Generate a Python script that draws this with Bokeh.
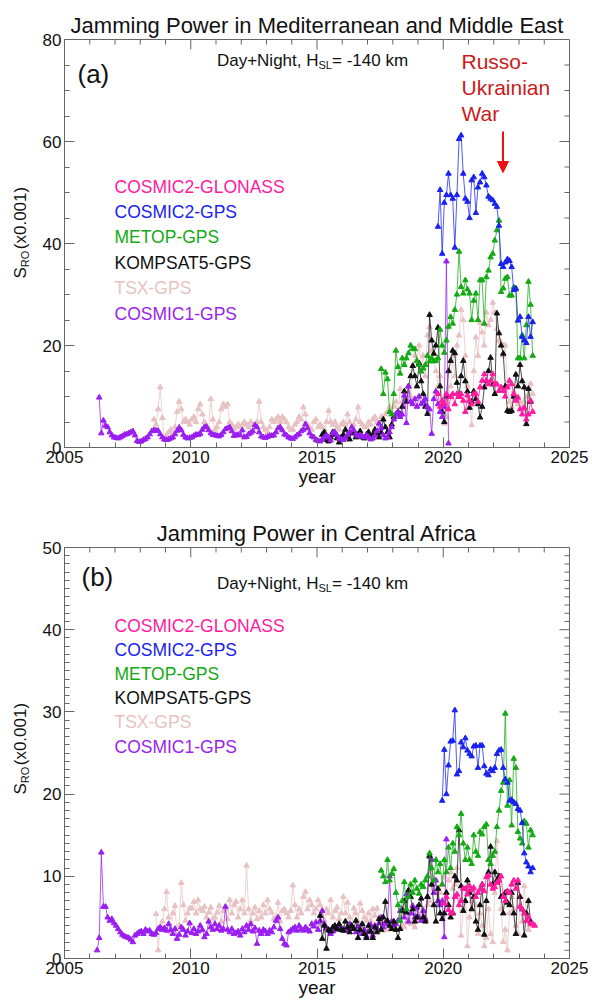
import numpy as np
from bokeh.plotting import figure
from bokeh.models import Label, Arrow, NormalHead, Range1d, FixedTicker
from bokeh.layouts import column, row
from bokeh.embed import file_html
from bokeh.resources import INLINE

FONT = "Liberation Sans"

SERIES_NAMES = ["COSMIC2-GLONASS", "COSMIC2-GPS", "METOP-GPS", "KOMPSAT5-GPS", "TSX-GPS", "COSMIC1-GPS"]
SERIES_COLORS = ["#ff1aa0", "#1a22f0", "#14aa14", "#111111", "#e8c2c2", "#9a1ef0"]

X_TICKS = [2005, 2010, 2015, 2020, 2025]
X_MINOR = list(range(2005, 2026))

# ---------------- Panel (a): Mediterranean and Middle East (monthly values) ----------------
MED_C1_START = (2006, 5)
MED_C1 = [9.8, 2.8, 5.3, 4.3, 4.0, 3.0, 2.4, 2.0,
          1.9, 1.8, 2.0, 2.2, 2.5, 2.6, 2.8, 3.0, 3.2, 2.4, 1.3, 1.1,
          1.2, 1.5, 1.7, 2.0, 2.6, 3.2, 3.4, 3.3, 3.3, 2.6, 2.0, 1.6,
          1.5, 1.6, 1.8, 2.0, 2.6, 3.3, 3.9, 3.4, 2.5, 2.0, 1.8, 1.9,
          2.0, 2.3, 2.5, 2.5, 2.7, 3.5, 4.0, 4.1, 3.4, 2.8, 2.5, 2.4,
          2.3, 2.2, 2.5, 3.0, 3.6, 3.8, 4.0, 3.2, 2.3, 2.4, 2.5, 2.4,
          3.4, 2.0, 2.1, 2.6, 2.9, 3.2, 4.4, 4.0, 3.0, 2.2, 2.0, 1.9,
          2.1, 2.3, 2.3, 2.4, 3.0, 3.8, 4.0, 3.4, 2.6, 2.4, 2.0, 1.8,
          1.7, 2.0, 2.4, 2.6, 3.2, 3.5, 4.6, 3.8, 2.8, 2.2, 2.0, 1.5,
          1.3, 1.2, 1.6, 2.0, 2.4, 2.0, 1.4, 2.8, 3.0, 2.4, 1.8, 1.6,
          1.5, 1.9, 2.5, 3.0, 4.0, 3.4, 2.6, 2.2, 2.4, 2.2, 2.0, 2.4,
          2.0, 1.6, 1.8, 2.2, 3.2, 4.7, 3.8, 2.4, 1.8, 2.0, 3.0, 4.0,
          5.5, 6.5, 7.0, 6.0, 6.5, 10.2, 4.8, 12.0, 9.0, 8.5, 9.5, 8.0,
          10.0, 8.5, 9.0, 9.5, 8.0, 7.5, 2.7, 9.5, 11.0, 8.5, 7.0, 6.0,
          8.0, 36.5, 0.8]

MED_TSX_START = (2008, 7)
MED_TSX = [5.5, 4.5, 7.5, 11.8, 5.8, 1.5,
           2.5, 3.0, 3.5, 2.8, 4.0, 7.0, 9.0, 7.5, 5.0, 5.5, 5.0, 4.5,
           5.5, 6.0, 5.0, 7.5, 8.5, 6.5, 5.0, 4.0, 3.5, 9.5, 5.5, 3.5,
           4.0, 5.0, 7.5, 8.5, 8.0, 8.5, 5.0, 4.5, 3.5, 4.0, 4.5, 4.0,
           4.5, 5.0, 4.5, 4.0, 5.0, 4.5, 4.0, 5.0, 9.0, 5.0, 4.0, 3.5,
           3.0, 4.0, 5.5, 5.0, 5.5, 6.0, 5.0, 6.0, 5.5, 5.0, 4.0, 3.5,
           3.5, 4.5, 5.0, 6.0, 5.5, 7.9, 6.5, 4.5, 4.0, 3.5, 5.0, 5.5,
           4.0, 4.5, 4.0, 3.5, 5.0, 7.2, 5.0, 4.5, 5.0, 4.0, 3.5, 4.5,
           5.0, 4.5, 6.5, 5.0, 4.0, 4.5, 5.5, 7.9, 5.0, 4.5, 4.0, 4.0,
           5.0, 4.5, 5.5, 6.0, 5.0, 4.5, 6.0, 5.5, 6.5, 7.0, 8.0, 7.0,
           8.0, 9.0, 7.0, 11.5, 9.0, 8.0, 9.5, 11.0, 10.0, 16.0, 18.0, 17.0,
           20.0, 16.0, 18.0, 14.0, 22.0, 23.6, 19.0, 17.0, 15.0, 12.0, 14.0, 9.0,
           4.7, 6.0, 10.0, 12.0, 18.0, 14.0, 20.0, 22.0, 27.0, 25.0, 18.0, 12.0,
           9.0, 4.4, 15.0, 21.6, 18.0, 24.5, 22.6, 20.0, 26.5, 24.0, 25.0, 28.4,
           26.5, 23.3, 21.0, 20.6, 18.0, 20.0, 12.0, 9.0, 8.0, 11.0, 10.0, 8.5,
           9.0, 8.0, 9.0, 10.0, 11.5, 12.5, 10.5]

MED_K5_START = (2015, 3)
MED_K5 = [2.5, 3.0, 1.5, 1.2, 2.0, 3.0, 2.5, 1.8, 1.0, 2.0,
          2.5, 3.5, 2.0, 1.6, 2.8, 3.0, 2.0, 2.5, 3.2, 2.0, 1.8, 2.5,
          3.0, 2.0, 2.5, 3.5, 2.8, 2.0, 3.0, 5.5, 4.0, 3.0, 2.0, 4.5,
          6.0, 6.5, 7.0, 6.5, 8.0, 11.0, 9.0, 12.0, 14.0, 16.0, 14.0, 12.0,
          16.5, 13.0, 10.5, 8.0, 6.6, 26.0, 21.0, 18.4, 20.0, 23.5, 12.0, 7.0,
          5.0, 10.0, 15.0, 17.0, 19.0, 18.5, 12.7, 10.0, 14.0, 17.0, 13.0, 11.0,
          7.8, 9.0, 11.0, 9.5, 8.5, 5.9, 8.0, 11.8, 13.0, 15.0, 17.6, 12.4,
          10.5, 26.3, 22.4, 20.0, 18.4, 12.0, 7.2, 7.0, 7.2, 10.0, 14.3, 12.0,
          16.2, 13.0, 11.8, 4.6, 11.5, 9.0]

MED_METOP_START = (2017, 7)
MED_METOP = [15.4, 10.5, 14.7, 13.4, 7.0, 6.5,
             10.5, 19.0, 15.8, 14.5, 17.5, 16.2, 17.5, 18.5, 20.0, 19.3, 19.3, 17.0,
             16.2, 14.9, 15.5, 16.2, 18.0, 16.9, 17.5, 16.9, 17.0, 17.5, 23.1, 20.0,
             18.6, 21.0, 23.7, 25.6, 24.3, 27.0, 30.0, 38.4, 31.5, 30.2, 32.8, 31.0,
             30.2, 25.0, 28.8, 30.2, 25.0, 32.8, 32.8, 24.3, 33.4, 34.7, 37.3, 38.0,
             40.6, 42.6, 44.5, 30.5, 31.2, 33.1, 33.4, 29.8, 29.8, 31.4, 31.0, 17.5,
             17.5, 22.0, 17.5, 24.0, 32.5, 28.0, 18.0]

MED_C2GPS_START = (2019, 10)
MED_C2GPS = [43.3, 50.5, 38.0, 48.0, 49.5, 53.7, 49.5, 48.8, 39.2, 49.5, 60.5, 61.2,
             53.7, 48.8, 48.2, 45.0, 52.4, 53.0, 46.0, 51.0, 52.0, 53.7, 53.0, 51.4,
             49.2, 48.8, 48.5, 47.8, 47.2, 43.5, 36.0, 35.4, 36.3, 36.9, 36.6, 35.4,
             30.9, 31.2, 24.9, 25.6, 21.7, 21.0, 20.5, 25.6, 21.7, 24.6]

MED_C2GLO_START = (2019, 10)
MED_C2GLO = [10.5, 8.0, 9.2, 8.6, 10.5, 7.5, 9.9, 10.5, 8.5, 10.5, 9.9, 10.5,
             9.2, 7.0, 10.2, 9.2, 8.5, 10.5, 10.5, 9.0, 11.8, 13.1, 14.4, 13.1,
             12.4, 13.1, 14.4, 12.4, 12.4, 11.1, 11.8, 11.1, 10.0, 11.8, 13.1, 12.4,
             10.5, 9.2, 9.8, 7.5, 6.5, 7.8, 5.5, 6.5, 9.2, 7.0]

# ---------------- Panel (b): Central Africa (monthly values) ----------------
AFR_C1_START = (2006, 4)
AFR_C1 = [1.0, 2.5, 12.9, 6.3, 6.3, 5.0, 4.6, 4.8, 4.3,
          4.0, 3.6, 3.2, 2.9, 2.7, 2.6, 2.5, 2.3, 2.0, 2.8, 3.0, 3.2,
          3.3, 3.0, 3.5, 3.3, 3.4, 3.0, 2.9, 3.1, 3.6, 3.8, 3.5, 3.7,
          3.4, 4.2, 3.5, 3.0, 3.6, 2.4, 2.9, 3.8, 3.5, 2.8, 3.3, 4.3,
          3.1, 3.6, 3.0, 3.3, 4.0, 3.5, 2.6, 3.0, 4.5, 3.8, 3.5, 4.2,
          3.6, 4.0, 3.4, 3.6, 6.3, 3.5, 3.2, 3.6, 3.0, 3.1, 3.3, 2.8,
          3.6, 3.2, 4.0, 3.5, 4.2, 3.3, 3.7, 1.8, 3.4, 3.0, 3.5, 3.3,
          3.0, 3.4, 3.2, 3.8, 4.6, 5.0, 3.6, 2.4, 1.8, 1.6, 3.2, 3.4,
          3.6, 3.8, 3.4, 4.0, 3.6, 3.4, 3.8, 3.5, 3.3, 4.2, 3.9, 4.4,
          3.5, 4.6, 5.8, 4.2, 3.7, 3.4, 3.0, 3.3, 3.5, 3.8, 4.0, 3.5,
          3.6, 3.4, 3.5, 4.2, 3.8, 3.6, 3.2, 3.9, 3.4, 3.0, 3.5, 2.7,
          3.2, 4.1, 2.8, 4.0, 3.7, 4.3, 5.0, 3.8, 4.4, 4.2, 10.0, 4.5,
          4.0, 4.2, 4.6, 5.8, 6.0, 5.0, 7.8, 4.5, 5.5, 6.4, 5.0, 6.2,
          5.0, 4.6, 5.8, 4.8, 7.5, 12.4, 12.0, 8.0, 9.5, 7.0, 6.5, 7.0,
          2.6, 14.5]

AFR_TSX_START = (2008, 8)
AFR_TSX = [5.4, 1.0, 3.8, 4.5, 6.0,
           8.1, 5.0, 3.2, 5.5, 6.4, 2.6, 4.0, 9.2, 6.5, 4.6, 5.5, 6.1,
           6.1, 6.9, 5.5, 7.1, 6.0, 5.8, 6.3, 5.0, 5.6, 6.2, 4.8, 5.0,
           5.6, 6.4, 4.5, 5.8, 6.0, 4.8, 7.1, 5.5, 6.5, 6.9, 5.0, 6.0,
           7.1, 5.5, 11.3, 6.0, 4.6, 5.5, 6.2, 4.8, 5.8, 5.0, 6.5, 5.5,
           7.1, 6.0, 5.6, 4.8, 5.0, 6.8, 4.5, 5.8, 6.0, 5.5, 5.0, 5.8,
           8.9, 6.5, 5.0, 6.0, 5.5, 7.5, 8.1, 6.0, 7.1, 6.5, 5.5, 6.0,
           7.1, 6.5, 5.8, 4.6, 6.0, 5.5, 7.1, 5.0, 5.8, 6.2, 4.8, 5.5,
           7.5, 5.5, 6.8, 5.0, 4.0, 6.1, 5.5, 4.5, 6.7, 5.8, 5.0, 4.6,
           5.5, 4.6, 6.0, 5.2, 6.1, 5.0, 4.5, 3.4, 4.0, 3.5, 3.6, 4.2,
           3.8, 3.5, 4.6, 3.6, 4.0, 3.8, 4.4, 5.0, 4.2, 4.5, 3.8, 5.0,
           4.6, 5.5, 6.0, 5.0, 6.5, 7.0, 12.0, 9.0, 8.0, 7.0, 8.0, 9.0,
           10.0, 8.0, 9.5, 10.5, 8.5, 9.0, 11.0, 7.5, 2.8, 6.0, 8.5, 1.5,
           5.0, 7.0, 8.5, 6.5, 3.0, 5.5, 4.0, 1.5, 2.5, 6.0, 3.0, 2.0,
           8.0, 14.3, 9.5, 6.0, 2.0, 3.5, 1.0, 5.5, 7.5, 6.0, 4.0, 3.0,
           6.5, 4.5, 8.8, 5.0, 3.5, 4.0]

AFR_K5_START = (2015, 2)
AFR_K5 = [5.2, 2.4, 4.0, 1.2, 3.5, 3.3, 3.8, 4.0, 3.6, 4.2, 3.5,
          3.4, 4.5, 3.8, 3.2, 4.0, 3.6, 4.6, 2.5, 3.5, 4.2, 3.0, 2.5,
          4.0, 3.3, 2.5, 3.8, 3.2, 4.8, 3.5, 5.0, 6.9, 4.6, 4.0, 3.6,
          4.5, 3.5, 2.5, 3.6, 5.8, 7.0, 5.6, 8.3, 7.5, 6.0, 4.5, 5.0,
          6.5, 7.3, 5.0, 4.5, 7.5, 12.5, 9.0, 6.5, 4.5, 8.5, 5.5, 4.8,
          5.5, 8.0, 6.5, 5.0, 5.5, 10.0, 9.5, 15.6, 8.8, 5.8, 7.0, 9.5,
          8.0, 6.0, 7.5, 4.5, 3.5, 6.5, 9.0, 2.9, 7.0, 10.5, 13.6, 9.0,
          10.5, 9.5, 10.0, 7.5, 5.5, 8.0, 6.8, 6.5, 8.0, 5.5, 3.0, 9.2,
          7.5, 6.0, 2.8, 5.5, 7.0, 4.5]

AFR_METOP_START = (2017, 7)
AFR_METOP = [10.7, 10.0, 9.3, 12.0, 9.5, 10.3,
             10.9, 8.0, 6.5, 4.6, 7.0, 9.3, 6.0, 7.5, 9.0, 8.0, 9.5, 8.5,
             7.9, 9.0, 8.7, 9.5, 10.0, 12.8, 11.0, 9.5, 12.0, 10.5, 11.5, 9.0,
             12.0, 10.5, 13.5, 11.0, 14.0, 13.0, 16.0, 15.0, 17.6, 14.0, 12.0, 13.5,
             12.0, 11.5, 15.0, 13.0, 12.5, 15.4, 15.1, 16.0, 16.3, 12.0, 11.5, 12.5,
             13.0, 16.0, 18.0, 20.4, 21.4, 29.8, 18.6, 21.7, 16.2, 24.3, 23.2, 15.4,
             14.6, 14.0, 16.7, 16.4, 13.5, 15.6, 15.0]

AFR_C2GPS_START = (2019, 12)
AFR_C2GPS = [19.2, 25.4, 20.0, 23.5, 26.4, 26.5, 30.2, 22.4, 22.8, 26.3, 25.7, 26.8,
             25.3, 24.9, 24.6, 25.8, 25.9, 23.2, 25.9, 25.9, 23.4, 22.5, 22.3, 23.0,
             22.8, 23.2, 24.9, 25.3, 25.4, 23.2, 21.8, 21.4, 19.2, 19.3, 19.0, 18.8,
             18.2, 18.0, 16.5, 12.8, 11.7, 11.2, 10.5, 11.0]

AFR_C2GLO_START = (2020, 1)
AFR_C2GLO = [6.7, 7.5, 5.9, 5.5, 5.6, 7.5, 7.8, 6.5, 7.0, 8.5, 8.5, 7.8,
             8.8, 8.3, 8.6, 7.5, 8.0, 8.4, 9.0, 8.2, 9.9, 10.1, 9.0, 8.5,
             8.7, 9.2, 9.5, 10.0, 7.5, 7.0, 8.2, 8.0, 9.0, 9.5, 8.5, 9.5,
             6.3, 6.0, 5.5, 4.6, 5.0, 4.2, 4.2, 4.0]


def month_axis(start, n):
    y0, m0 = start
    return [y0 + (m0 - 0.5) / 12.0 + i / 12.0 for i in range(n)]


# ---------------- layout geometry (page pixels, page origin = figure origin) ----------------
PAGE_W = 592
LAB_W = 38                          # narrow strip holding the rotated y-axis title
FRAME_L, FRAME_R = 64, 569          # page x of frame edges
TOP_H, BOT_H = 500, 503             # row heights
TOP_FRAME = (39, 447)               # page y of frame top/bottom, panel a
BOT_FRAME = (547, 958)              # page y of frame top/bottom, panel b
AXIS_COL = "#666666"


def make_xd():
    return lambda px: 2005 + (px - FRAME_L) * 20.0 / (FRAME_R - FRAME_L)


def make_yd(frame, ymax):
    t, b = frame
    return lambda py: (b - py) * ymax / (b - t)


def style_axis(ax):
    ax.axis_line_color = AXIS_COL
    ax.major_tick_line_color = AXIS_COL
    ax.minor_tick_line_color = AXIS_COL
    ax.major_tick_in = 10
    ax.major_tick_out = 0
    ax.minor_tick_in = 5
    ax.minor_tick_out = 0
    ax.major_label_text_font = FONT
    ax.major_label_text_font_size = "17px"
    ax.major_label_text_color = "#111111"
    ax.major_label_standoff = 3


def make_panel(height, frame, page_top, ymax, yticks, yminor, series, texts, title, title_standoff):
    t, b = frame
    p = figure(width=PAGE_W - LAB_W, height=height, x_range=Range1d(2005, 2025), y_range=Range1d(0, ymax),
               output_backend="svg", toolbar_location=None,
               min_border_left=FRAME_L - LAB_W, min_border_right=PAGE_W - FRAME_R,
               min_border_top=t - page_top, min_border_bottom=page_top + height - b)
    p.xgrid.visible = False
    p.ygrid.visible = False
    p.outline_line_color = AXIS_COL
    p.title.text = title
    p.title.text_font = FONT
    p.title.text_font_size = "22px"
    p.title.text_font_style = "normal"
    p.title.text_color = "#111111"
    p.title.align = "center"
    p.title.standoff = title_standoff

    p.xaxis.ticker = FixedTicker(ticks=X_TICKS, minor_ticks=X_MINOR)
    p.yaxis.ticker = FixedTicker(ticks=yticks, minor_ticks=yminor)
    style_axis(p.xaxis[0])
    style_axis(p.yaxis[0])
    p.xaxis.axis_label = "year"
    p.xaxis.axis_label_text_font = FONT
    p.xaxis.axis_label_text_font_size = "19px"
    p.xaxis.axis_label_text_font_style = "normal"
    p.xaxis.axis_label_text_color = "#111111"
    p.xaxis.axis_label_standoff = 0

    xd = make_xd()
    yd = make_yd(frame, ymax)
    # inward ticks on the top and right frame edges
    px_x = 20.0 / (FRAME_R - FRAME_L)
    px_y = ymax / (b - t)
    majx = [v for v in X_TICKS]
    minx = [v for v in X_MINOR if v not in X_TICKS]
    p.segment(x0=majx, y0=[ymax] * len(majx), x1=majx, y1=[ymax - 10 * px_y] * len(majx),
              line_color=AXIS_COL, line_width=1)
    p.segment(x0=minx, y0=[ymax] * len(minx), x1=minx, y1=[ymax - 5 * px_y] * len(minx),
              line_color=AXIS_COL, line_width=1)
    miny = [v for v in yminor if v not in yticks]
    p.segment(x0=[2025] * len(yticks), y0=yticks, x1=[2025 - 10 * px_x] * len(yticks), y1=yticks,
              line_color=AXIS_COL, line_width=1)
    p.segment(x0=[2025] * len(miny), y0=miny, x1=[2025 - 5 * px_x] * len(miny), y1=miny,
              line_color=AXIS_COL, line_width=1)

    for xs, ys, col in series:
        p.line(xs, ys, line_color=col, line_width=1, line_alpha=0.75)
        p.scatter(xs, ys, marker="triangle", size=5.5, fill_color=col, line_color=col)

    for (px, py, txt, size, color, align) in texts:
        p.add_layout(Label(x=xd(px), y=yd(py), text=txt, text_font=FONT, text_font_size=f"{size}px",
                           text_color=color, text_align=align, text_baseline="middle"))
    return p, xd, yd


def label_strip(height, ymid):
    f = figure(width=LAB_W, height=height, x_range=Range1d(0, LAB_W), y_range=Range1d(height, 0),
               output_backend="svg", toolbar_location=None, min_border=0,
               x_axis_type=None, y_axis_type=None)
    f.outline_line_color = None
    f.xgrid.visible = False
    f.ygrid.visible = False
    ya = ymid + 36
    parts = [(20, ya, "S", 17, "right"),
             (24, ya, "RO", 11, "left"),
             (20, ya - 22, "(x0.001)", 17, "left")]
    for (x, y, txt, size, align) in parts:
        f.add_layout(Label(x=x, y=y, text=txt, text_font=FONT, text_font_size=f"{size}px",
                           text_color="#111111", text_align=align, text_baseline="middle",
                           angle=np.pi / 2))
    return f


def panel_texts(tag, tag_x, tag_y, dn_y, leg_y0, leg_dy):
    T = []
    T.append((tag_x, tag_y, tag, 26, "#111111", "left"))
    hx = 318
    T.append((hx, dn_y, "Day+Night, H", 17, "#111111", "right"))
    T.append((hx, dn_y + 4, "SL", 11, "#111111", "left"))
    T.append((hx + 13.5, dn_y, "= -140 km", 17, "#111111", "left"))
    for k, (nm, col) in enumerate(zip(SERIES_NAMES, SERIES_COLORS)):
        T.append((114, leg_y0 + k * leg_dy, nm, 17.5, col, "left"))
    return T


def build_series(lst):
    return [(month_axis(start, len(vals)), vals, col) for (start, vals), col in lst]


C = dict(zip(SERIES_NAMES, SERIES_COLORS))

med_series = build_series([
    ((MED_TSX_START, MED_TSX), C["TSX-GPS"]),
    ((MED_K5_START, MED_K5), C["KOMPSAT5-GPS"]),
    ((MED_C1_START, MED_C1), C["COSMIC1-GPS"]),
    ((MED_METOP_START, MED_METOP), C["METOP-GPS"]),
    ((MED_C2GPS_START, MED_C2GPS), C["COSMIC2-GPS"]),
    ((MED_C2GLO_START, MED_C2GLO), C["COSMIC2-GLONASS"]),
])
afr_series = build_series([
    ((AFR_TSX_START, AFR_TSX), C["TSX-GPS"]),
    ((AFR_C1_START, AFR_C1), C["COSMIC1-GPS"]),
    ((AFR_K5_START, AFR_K5), C["KOMPSAT5-GPS"]),
    ((AFR_METOP_START, AFR_METOP), C["METOP-GPS"]),
    ((AFR_C2GPS_START, AFR_C2GPS), C["COSMIC2-GPS"]),
    ((AFR_C2GLO_START, AFR_C2GLO), C["COSMIC2-GLONASS"]),
])

RED = "#cc1a1a"
top_texts = panel_texts("(a)", 77, 73, 60, 186, 25.4)
top_texts += [(461, 61, "Russo-", 21, RED, "left"),
              (461, 87, "Ukrainian", 21, RED, "left"),
              (461, 113, "War", 21, RED, "left")]
p1, xd1, yd1 = make_panel(TOP_H, TOP_FRAME, 0, 80, [0, 20, 40, 60, 80], list(range(0, 81, 5)),
                          med_series, top_texts, "Jamming Power in Mediterranean and Middle East", 3)
p1.add_layout(Arrow(end=NormalHead(size=11, fill_color="#ee1111", line_color="#ee1111"),
                    x_start=xd1(502.5), y_start=yd1(131), x_end=xd1(502.5), y_end=yd1(172),
                    line_color="#ee1111", line_width=2))

bot_texts = panel_texts("(b)", 81, 576.5, 583, 625.5, 24.1)
p2, xd2, yd2 = make_panel(BOT_H, BOT_FRAME, TOP_H, 50, [0, 10, 20, 30, 40, 50], list(range(0, 51)),
                          afr_series, bot_texts, "Jamming Power in Central Africa", 3)

s1 = label_strip(TOP_H, 243)
s2 = label_strip(BOT_H, 752.5 - TOP_H)

layout = column(row(s1, p1, spacing=0), row(s2, p2, spacing=0), spacing=0)
open("out.html", "w").write(file_html(layout, INLINE))
